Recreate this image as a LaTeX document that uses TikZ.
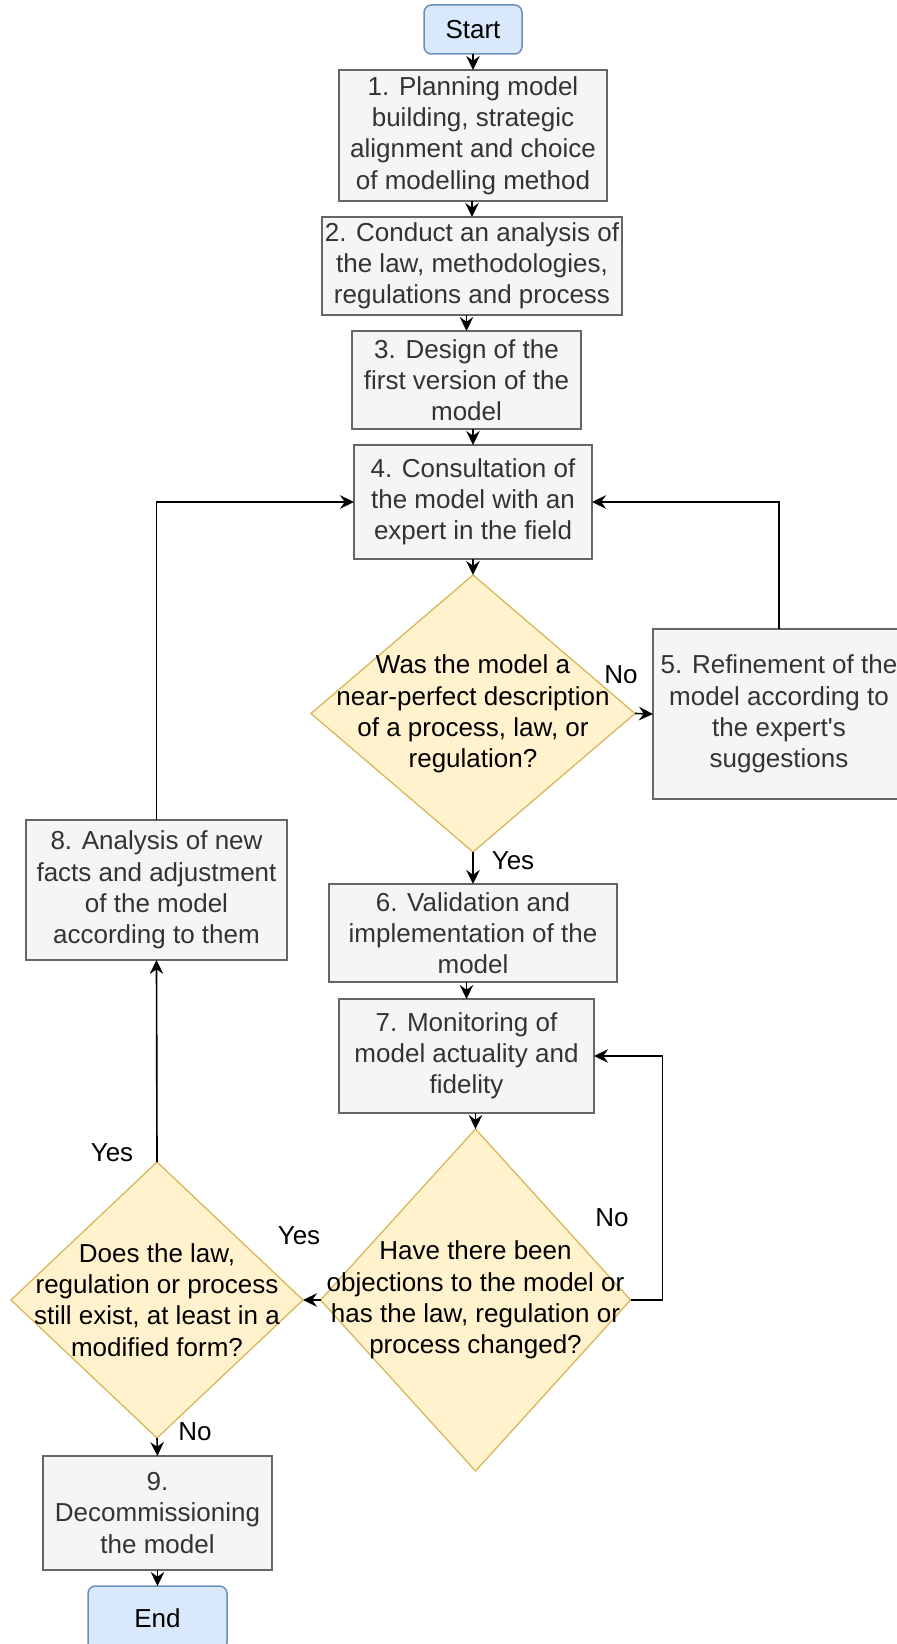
\documentclass[tikz,border=0pt]{standalone}
\usepackage{fontspec}
\setmainfont{Liberation Sans}
\usetikzlibrary{shapes.geometric,arrows.meta}

\definecolor{boxfill}{HTML}{F5F5F5}
\definecolor{boxline}{HTML}{666666}
\definecolor{boxtext}{HTML}{333333}
\definecolor{decfill}{HTML}{FFF2CC}
\definecolor{decline}{HTML}{D6B656}
\definecolor{termfill}{HTML}{DAE8FC}
\definecolor{termline}{HTML}{6C8EBF}

\tikzset{
  every node/.style={font=\fontsize{10.4}{12.5}\selectfont, inner sep=0pt, outer sep=0pt},
  stepbox/.style={draw=boxline, fill=boxfill, line width=0.6pt, text=boxtext, align=center, rectangle},
  termbox/.style={draw=termline, fill=termfill, line width=0.6pt, text=black, align=center, rectangle, rounded corners=3pt},
  decision/.style={draw=decline, fill=decfill, line width=0.5pt, diamond, shape aspect=1},
  dectext/.style={text=black, align=center},
  answer/.style={text=black},
  flow/.style={draw=black, line width=0.65pt, -{Stealth[length=5.6pt, width=5.4pt, inset=1.9pt]}},
}

\begin{document}
\begin{tikzpicture}[x=0.4pt, y=-0.4pt]
\useasboundingbox (0,0) rectangle (896,1644);

% terminals and process steps
\node[termbox, minimum width=39.2pt, minimum height=19.6pt] (start) at (473,29.5) {Start};
\node[stepbox, minimum width=107.2pt, minimum height=52.4pt] (b1) at (473,135.5)
  {1. Planning model\\building, strategic\\alignment and choice\\of modelling method};
\node[stepbox, minimum width=120pt, minimum height=39.2pt] (b2) at (472,266)
  {2. Conduct an analysis of\\the law, methodologies,\\regulations and process};
\node[stepbox, minimum width=91.6pt, minimum height=39.2pt] (b3) at (466.5,380)
  {3. Design of the\\first version of the\\model};
\node[stepbox, minimum width=95.2pt, minimum height=45.6pt] (b4) at (473,502)
  {4. Consultation of\\the model with an\\expert in the field};
\node[stepbox, minimum width=100.8pt, minimum height=68pt] (b5) at (779,714)
  {5. Refinement of the\\model according to\\the expert\textquotesingle s\\suggestions};
\node[stepbox, minimum width=115.2pt, minimum height=39.2pt] (b6) at (473,933)
  {6. Validation and\\implementation of the\\model};
\node[stepbox, minimum width=102pt, minimum height=45.6pt] (b7) at (466.5,1056)
  {7. Monitoring of\\model actuality and\\fidelity};
\node[stepbox, minimum width=104.4pt, minimum height=56pt] (b8) at (156.5,890)
  {8. Analysis of new\\facts and adjustment\\of the model\\according to them};
\node[stepbox, minimum width=91.6pt, minimum height=45.6pt] (b9) at (157.5,1513)
  {9.\\Decommissioning\\the model};
\node[termbox, minimum width=55.6pt, minimum height=25.6pt] (end) at (157.5,1618) {End};

% decisions: the diamond outline and its question on top
\node[decision, minimum width=129.6pt, minimum height=110.8pt] (d1) at (473,713.5) {};
\node[dectext] (d1t) at (473,714)
  {Was the model a\\near-perfect description\\of a process, law, or\\regulation?};
\node[decision, minimum width=124pt, minimum height=136.8pt] (d2) at (475.5,1300) {};
\node[dectext] (d2t) at (475.5,1300)
  {Have there been\\objections to the model or\\has the law, regulation or\\process changed?};
\node[decision, minimum width=116.8pt, minimum height=110.4pt] (d3) at (157,1300) {};
\node[dectext] (d3t) at (157,1300)
  {Does the law,\\regulation or process\\still exist, at least in a\\modified form?};

% answer labels
\node[answer] (no1) at (621,675) {No};
\node[answer] (yes1) at (513,861) {Yes};
\node[answer] (no2) at (612,1218) {No};
\node[answer] (yes2) at (299,1236) {Yes};
\node[answer] (yes3) at (112,1153) {Yes};
\node[answer] (no3) at (195,1432) {No};

% main sequence
\draw[flow] (start.south) -- (b1.north);
\draw[flow] (b2.north |- b1.south) -- (b2.north);
\draw[flow] (b3.north |- b2.south) -- (b3.north);
\draw[flow] (b4.north |- b3.south) -- (b4.north);
\draw[flow] (b4.south) -- (d1.north);
\draw[flow] (d1.east) -- (b5.west);
\draw[flow] (b5.north) |- (b4.east);
\draw[flow] (d1.south) -- (b6.north);
\draw[flow] (b7.north |- b6.south) -- (b7.north);
\draw[flow] (d2.north |- b7.south) -- (d2.north);
\draw[flow] (d2.east) -- ++(32,0) |- (b7.east);
\draw[flow] (d2.west) -- (d3.east);
\draw[flow] (d3.north) -- (b8.south);
\draw[flow] (b8.north) |- (b4.west);
\draw[flow] (d3.south) -- (b9.north);
\draw[flow] (b9.south) -- (end.north);
\end{tikzpicture}
\end{document}
